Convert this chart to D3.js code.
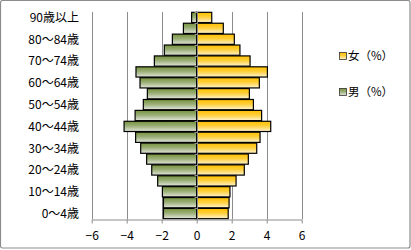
<!DOCTYPE html>
<html><head><meta charset="utf-8">
<script src="https://cdn.jsdelivr.net/npm/d3@7"></script>
<style>
html,body{margin:0;padding:0;background:#fff;}
svg{display:block;font-family:"Noto Sans CJK JP","Noto Sans",sans-serif;}
</style></head>
<body>
<svg id="c" width="411" height="250"></svg>
<script>
const ageGroups = ["0～4歳","5～9歳","10～14歳","15～19歳","20～24歳","25～29歳","30～34歳","35～39歳","40～44歳","45～49歳","50～54歳","55～59歳","60～64歳","65～69歳","70～74歳","75～79歳","80～84歳","85～89歳","90歳以上"];
const female = [1.8,1.85,1.9,2.25,2.72,2.95,3.43,3.62,4.23,3.71,3.24,3.01,3.58,4.04,3.05,2.47,2.15,1.52,0.86];
const male = [1.9,1.9,1.96,2.23,2.57,2.86,3.2,3.49,4.15,3.52,3.05,2.82,3.24,3.47,2.42,1.85,1.39,0.76,0.29];
const xTicks = [-6,-4,-2,0,2,4,6];
const seriesNames = ["女（%）","男（%）"];

(function(){
const svg = d3.select("#c");
svg.append("rect").attr("x",0.5).attr("y",0.5).attr("width",409.5).attr("height",247.5)
  .attr("rx",2).attr("fill","#fff").attr("stroke","#8c8c8c").attr("stroke-width",1.2);

const defs = svg.append("defs");
const gF = defs.append("linearGradient").attr("id","gf").attr("x1",0).attr("y1",0).attr("x2",0).attr("y2",1);
gF.append("stop").attr("offset","0%").attr("stop-color","#ffc000");
gF.append("stop").attr("offset","45%").attr("stop-color","#ffcf3a");
gF.append("stop").attr("offset","100%").attr("stop-color","#fff3cf");
const gM = defs.append("linearGradient").attr("id","gm").attr("x1",0).attr("y1",0).attr("x2",0).attr("y2",1);
gM.append("stop").attr("offset","0%").attr("stop-color","#76923c");
gM.append("stop").attr("offset","45%").attr("stop-color","#9aae76");
gM.append("stop").attr("offset","100%").attr("stop-color","#e2e6dc");

const pTop = 12, pBottom = 219;
const x = d3.scaleLinear().domain([-6,6]).range([91.7,301.7]);
const y = d3.scaleBand().domain(ageGroups.slice().reverse()).range([pTop,pBottom]).paddingInner(0.06).paddingOuter(0.03);

svg.append("g").selectAll("line").data(xTicks.filter(d=>d!==0)).join("line")
  .attr("x1",d=>Math.round(x(d))+0.5).attr("x2",d=>Math.round(x(d))+0.5)
  .attr("y1",pTop).attr("y2",pBottom).attr("stroke","#8c8c8c").attr("stroke-width",1);

const rows = ageGroups.map((a,i)=>({a,f:female[i],m:male[i]}));
svg.append("g").selectAll("rect").data(rows).join("rect")
  .attr("x",d=>x(-d.m)).attr("width",d=>x(0)-x(-d.m))
  .attr("y",d=>y(d.a)).attr("height",y.bandwidth())
  .attr("fill","url(#gm)").attr("stroke","#000").attr("stroke-width",1.2);
svg.append("g").selectAll("rect").data(rows).join("rect")
  .attr("x",x(0)).attr("width",d=>x(d.f)-x(0))
  .attr("y",d=>y(d.a)).attr("height",y.bandwidth())
  .attr("fill","url(#gf)").attr("stroke","#000").attr("stroke-width",1.2);

const x0 = Math.round(x(0))+0.5;
svg.append("line").attr("x1",x0).attr("x2",x0).attr("y1",pTop).attr("y2",pBottom)
  .attr("stroke","#8c8c8c").attr("stroke-width",1);
const step = (pBottom-pTop)/ageGroups.length;
svg.append("g").selectAll("line").data(d3.range(ageGroups.length+1)).join("line")
  .attr("x1",x0-3).attr("x2",x0).attr("y1",d=>Math.round(pTop+d*step)+0.5).attr("y2",d=>Math.round(pTop+d*step)+0.5)
  .attr("stroke","#8c8c8c");

const xa = svg.append("g").attr("transform",`translate(0,${pBottom+0.5})`)
  .call(d3.axisBottom(x).tickValues(xTicks).tickSize(4).tickSizeOuter(0).tickPadding(8));
xa.select(".domain").attr("stroke","#8c8c8c");
xa.selectAll(".tick line").attr("stroke","#8c8c8c");
xa.selectAll(".tick text").attr("font-size",12).attr("fill","#000")
  .attr("font-family","'Noto Sans CJK JP',sans-serif");

svg.append("g").selectAll("text").data(ageGroups.filter((d,i)=>i%2===0)).join("text")
  .attr("x",79).attr("y",d=>y(d)+y.bandwidth()/2).attr("dy","0.36em")
  .attr("text-anchor","end").attr("font-size",12).attr("fill","#000").text(d=>d);

const leg = [{n:seriesNames[0],g:"url(#gf)",yy:56},{n:seriesNames[1],g:"url(#gm)",yy:92}];
const lg = svg.append("g").selectAll("g").data(leg).join("g");
lg.append("rect").attr("x",339.5).attr("y",d=>d.yy-3.5).attr("width",7).attr("height",7)
  .attr("fill",d=>d.g).attr("stroke","#333").attr("stroke-width",0.8);
lg.append("text").attr("x",348).attr("y",d=>d.yy).attr("dy","0.36em").attr("font-size",11.5)
  .attr("fill","#000").text(d=>d.n);
})();
</script>
</body></html>
